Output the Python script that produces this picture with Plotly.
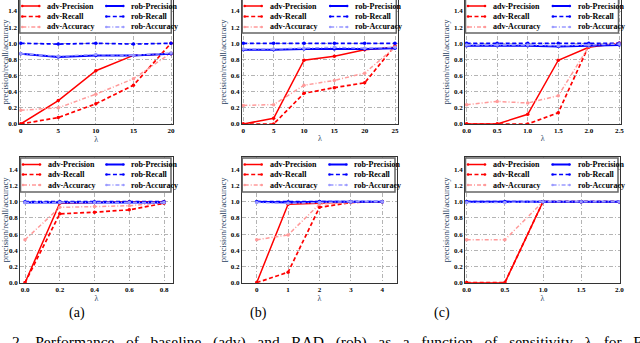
import plotly.graph_objects as go

W, H = 640, 343

# ---------------- data ----------------
# top row
lam_top_a = [0, 5, 10, 15, 20]
adv_prec_top_a = [0.0, 0.29, 0.66, 0.85, 0.87]
adv_rec_top_a = [0.0, 0.08, 0.25, 0.48, 1.0]
adv_acc_top_a = [0.17, 0.20, 0.37, 0.56, 0.88]
rob_prec_top_a = [0.87, 0.83, 0.85, 0.85, 0.87]
rob_rec_top_a = [1.0, 0.99, 1.0, 0.99, 1.0]
rob_acc_top_a = [0.87, 0.84, 0.86, 0.85, 0.88]

lam_top_b = [0, 5, 10, 15, 20, 25]
adv_prec_top_b = [0.0, 0.07, 0.79, 0.84, 0.92, 0.95]
adv_rec_top_b = [0.0, 0.0, 0.38, 0.45, 0.51, 0.97]
adv_acc_top_b = [0.23, 0.24, 0.48, 0.54, 0.63, 0.95]
rob_prec_top_b = [0.92, 0.92, 0.93, 0.93, 0.93, 0.94]
rob_rec_top_b = [1.0, 1.0, 1.0, 1.0, 1.0, 1.0]
rob_acc_top_b = [0.93, 0.93, 0.94, 0.95, 0.94, 0.95]

lam_top_c = [0.0, 0.5, 1.0, 1.5, 2.0, 2.5]
adv_prec_top_c = [0.0, 0.0, 0.12, 0.79, 0.95, 1.0]
adv_rec_top_c = [0.0, 0.0, 0.0, 0.14, 0.97, 1.0]
adv_acc_top_c = [0.24, 0.28, 0.26, 0.35, 0.96, 1.0]
rob_prec_top_c = [0.97, 0.97, 0.97, 0.96, 0.97, 0.98]
rob_rec_top_c = [1.0, 1.0, 1.0, 1.0, 1.0, 1.0]
rob_acc_top_c = [0.98, 0.98, 0.98, 0.97, 0.98, 0.99]

# bottom row
lam_bot_a = [0.0, 0.2, 0.4, 0.6, 0.8]
adv_prec_bot_a = [0.0, 0.98, 0.99, 1.0, 1.0]
adv_rec_bot_a = [0.0, 0.85, 0.87, 0.90, 0.98]
adv_acc_bot_a = [0.53, 0.93, 0.94, 0.95, 0.99]
rob_prec_bot_a = [0.99, 0.99, 0.99, 0.99, 0.99]
rob_rec_bot_a = [1.0, 1.0, 1.0, 1.0, 1.0]
rob_acc_bot_a = [0.99, 0.99, 0.99, 0.99, 0.99]

lam_bot_b = [0, 1, 2, 3, 4]
adv_prec_bot_b = [0.0, 0.97, 0.98, 1.0, 1.0]
adv_rec_bot_b = [0.0, 0.13, 0.93, 0.99, 1.0]
adv_acc_bot_b = [0.53, 0.59, 0.97, 0.99, 1.0]
rob_prec_bot_b = [1.0, 0.99, 1.0, 1.0, 1.0]
rob_rec_bot_b = [1.0, 1.0, 1.0, 1.0, 1.0]
rob_acc_bot_b = [0.99, 0.98, 0.99, 1.0, 1.0]

lam_bot_c = [0.0, 0.5, 1.0, 1.5, 2.0]
adv_prec_bot_c = [0.0, 0.0, 1.0, 1.0, 1.0]
adv_rec_bot_c = [0.0, 0.0, 1.0, 1.0, 1.0]
adv_acc_bot_c = [0.53, 0.53, 1.0, 1.0, 1.0]
rob_prec_bot_c = [1.0, 1.0, 1.0, 1.0, 1.0]
rob_rec_bot_c = [1.0, 1.0, 1.0, 1.0, 1.0]
rob_acc_bot_c = [0.99, 0.99, 1.0, 1.0, 1.0]

series_names = ["adv-Precision", "adv-Recall", "adv-Accuracy",
                "rob-Precision", "rob-Recall", "rob-Accuracy"]
panel_labels = ["(a)", "(b)", "(c)"]
caption_words = ["2.", "Performance", "of", "baseline", "(adv)", "and", "RAD",
                 "(rob)", "as", "a", "function", "of", "sensitivity", "\u03bb",
                 "for", "F"]

# ---------------- styling ----------------
SERIF = "Liberation Serif"
RED, LRED = "#ff0000", "#ff9a9a"
BLUE, LBLUE = "#0000ff", "#9a9aff"
DASH = "4px,2.5px"
DASHDOT = "4px,2px,1px,2px"
styles = [
    dict(color=RED, dash="solid", width=1.5),
    dict(color=RED, dash=DASH, width=1.7),
    dict(color=LRED, dash=DASHDOT, width=1.5),
    dict(color=BLUE, dash="solid", width=2.0),
    dict(color=BLUE, dash=DASH, width=1.7),
    dict(color=LBLUE, dash=DASHDOT, width=1.5),
]

# panel geometry in pixels: spine left/right, first/last tick value and pixel
panels = [
    dict(row=0, L=19.3, R=173.3, v0=0, p0=20.7, v1=20, p1=171.0, dt=5, fmt="d",
         x=lam_top_a, ys=[adv_prec_top_a, adv_rec_top_a, adv_acc_top_a,
                           rob_prec_top_a, rob_rec_top_a, rob_acc_top_a]),
    dict(row=0, L=241.7, R=398.3, v0=0, p0=243.3, v1=25, p1=395.0, dt=5, fmt="d",
         x=lam_top_b, ys=[adv_prec_top_b, adv_rec_top_b, adv_acc_top_b,
                           rob_prec_top_b, rob_rec_top_b, rob_acc_top_b]),
    dict(row=0, L=465.0, R=620.5, v0=0, p0=466.7, v1=2.5, p1=619.3, dt=0.5, fmt=".1f",
         x=lam_top_c, ys=[adv_prec_top_c, adv_rec_top_c, adv_acc_top_c,
                           rob_prec_top_c, rob_rec_top_c, rob_acc_top_c]),
    dict(row=1, L=20.0, R=173.0, v0=0, p0=25.0, v1=0.8, p1=164.0, dt=0.2, fmt=".1f",
         x=lam_bot_a, ys=[adv_prec_bot_a, adv_rec_bot_a, adv_acc_bot_a,
                           rob_prec_bot_a, rob_rec_bot_a, rob_acc_bot_a]),
    dict(row=1, L=241.7, R=397.0, v0=0, p0=256.7, v1=4, p1=382.3, dt=1, fmt="d",
         x=lam_bot_b, ys=[adv_prec_bot_b, adv_rec_bot_b, adv_acc_bot_b,
                           rob_prec_bot_b, rob_rec_bot_b, rob_acc_bot_b]),
    dict(row=1, L=465.0, R=620.0, v0=0, p0=466.7, v1=2.0, p1=619.3, dt=0.5, fmt=".1f",
         x=lam_bot_c, ys=[adv_prec_bot_c, adv_rec_bot_c, adv_acc_bot_c,
                           rob_prec_bot_c, rob_rec_bot_c, rob_acc_bot_c]),
]
# rows: pixel of y=0, pixel of y=1.4, pixel of top spine
rows = [dict(p0=124.0, p14=11.0, top=0.0, box=(-5, 33), items=(6, 16.5, 27)),
        dict(p0=282.7, p14=169.3, top=157.0, box=(158, 192), items=(164.5, 174.5, 185))]


def fx(px):
    return px / W


def fy(py):
    return 1 - py / H


fig = go.Figure()
shapes, annos = [], []
layout = {}
tickfont = dict(family=SERIF, size=7, color="black", weight="bold")

for i, p in enumerate(panels):
    k = "" if i == 0 else str(i + 1)
    r = rows[p["row"]]
    for j in range(6):
        st = styles[j]
        fig.add_trace(go.Scatter(
            x=p["x"], y=p["ys"][j], name=series_names[j], mode="lines+markers",
            line=dict(color=st["color"], dash=st["dash"], width=st["width"]),
            marker=dict(size=3.5, color=st["color"]),
            xaxis="x" + k, yaxis="y" + k, showlegend=False))

    sc = (p["p1"] - p["p0"]) / (p["v1"] - p["v0"])
    xr = [p["v0"] - (p["p0"] - p["L"]) / sc, p["v1"] + (p["R"] - p["p1"]) / sc]
    ppu = (r["p0"] - r["p14"]) / 1.4
    yr = [0, (r["p0"] - r["top"]) / ppu]

    layout["xaxis" + k] = dict(
        domain=[fx(p["L"]), fx(p["R"])], range=xr, anchor="y" + k, automargin=False,
        tick0=0, dtick=p["dt"], tickformat=p["fmt"], tickfont=tickfont,
        showgrid=True, gridcolor="#b4b4b4", gridwidth=0.8, griddash=DASHDOT,
        showline=True, linecolor="#333", linewidth=0.8,
        mirror=(p["row"] == 1), zeroline=False, ticks="", ticklen=0,
        title=dict(text="\u03bb", font=dict(family=SERIF, size=8), standoff=1))
    layout["yaxis" + k] = dict(
        domain=[fy(r["p0"]), fy(r["top"])], range=yr, anchor="x" + k, automargin=False,
        tick0=0, dtick=0.2, tickformat=".1f", tickfont=tickfont,
        showgrid=True, gridcolor="#b4b4b4", gridwidth=0.8, griddash=DASHDOT,
        showline=True, linecolor="#333", linewidth=0.8, mirror=True,
        zeroline=False, ticks="", ticklen=0,
        title=dict(text="precision/recall/accuracy",
                   font=dict(family=SERIF, size=8.5), standoff=2))

    # legend: one framed box, two columns of keys
    L, R = p["L"], p["R"]
    bx0, bx1 = L + 0.5, R - 2
    shapes.append(dict(type="rect", xref="paper", yref="paper", layer="above",
                       x0=fx(bx0), x1=fx(bx1), y0=fy(r["box"][1]), y1=fy(r["box"][0]),
                       fillcolor="white", line=dict(color="#666", width=1.5)))
    col_x = [L + 3, L + 0.565 * (R - L)]
    for j in range(6):
        st = styles[j]
        cx = col_x[j // 3]
        yy = fy(r["items"][j % 3])
        shapes.append(dict(type="line", xref="paper", yref="paper", layer="above",
                           x0=fx(cx), x1=fx(cx + 17), y0=yy, y1=yy,
                           line=dict(color=st["color"], dash=st["dash"], width=st["width"])))
        for ex in (cx, cx + 17):
            shapes.append(dict(type="circle", xref="paper", yref="paper", layer="above",
                               x0=fx(ex - 1.3), x1=fx(ex + 1.3),
                               y0=yy - 1.3 / H, y1=yy + 1.3 / H,
                               fillcolor=st["color"], line=dict(width=0)))
        annos.append(dict(xref="paper", yref="paper", x=fx(cx + 23), y=yy,
                          xanchor="left", yanchor="middle", showarrow=False,
                          text=series_names[j],
                          font=dict(family=SERIF, size=8, color="black", weight="bold")))

for lab, cx in zip(panel_labels, [77, 258, 442]):
    annos.append(dict(xref="paper", yref="paper", x=fx(cx), y=fy(313), text=lab,
                      showarrow=False, xanchor="center", yanchor="middle",
                      font=dict(family=SERIF, size=14, color="black")))
# caption is justified in the source page (and cut by the crop): widen the word gaps
annos.append(dict(xref="paper", yref="paper", x=fx(10), y=fy(331),
                  text="\u00a0\u00a0\u00a0".join(caption_words),
                  showarrow=False, xanchor="left", yanchor="top",
                  font=dict(family=SERIF, size=15.5, color="black")))

fig.update_layout(
    width=W, height=H, margin=dict(l=0, r=0, t=0, b=0, autoexpand=False),
    paper_bgcolor="white", plot_bgcolor="white",
    shapes=shapes, annotations=annos, **layout)

# the page body has a default 8px margin; drop it so the figure fills the window
fig.write_html("out.html", config={"displayModeBar": False},
               post_script="document.body.style.margin='0';")
